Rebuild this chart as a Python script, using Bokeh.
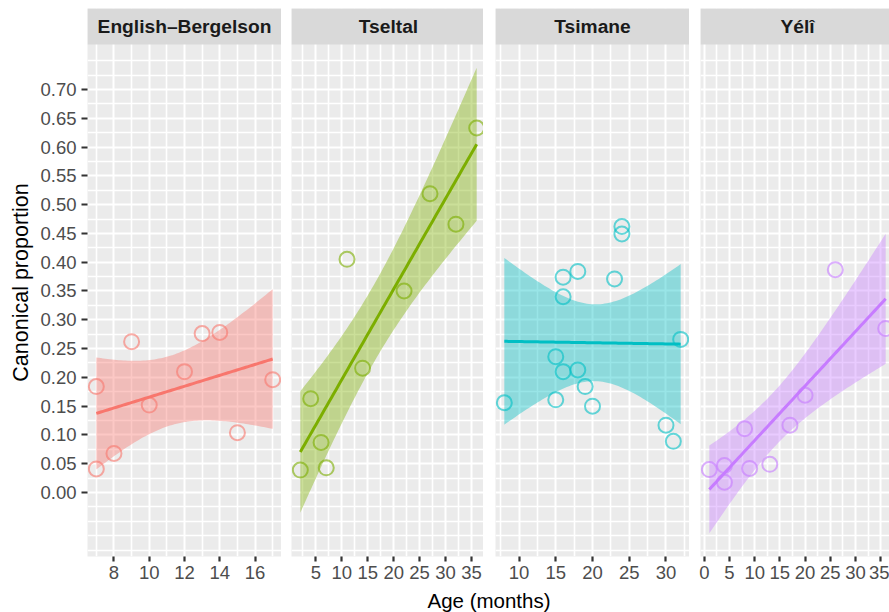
import math
import numpy as np
from bokeh.plotting import figure
from bokeh.layouts import row, column
from bokeh.models import Range1d, FixedTicker, Grid, NumeralTickFormatter
from bokeh.core.properties import value
from bokeh.embed import file_html
from bokeh.resources import INLINE

# ---------------- data ----------------
panel_names = ["English\u2013Bergelson", "Tseltal", "Tsimane", "Y\u00e9l\u00ee"]
panel_colors = ["#F8766D", "#7CAE00", "#00BFC4", "#C77CFF"]

eng_age = [7, 7, 8, 9, 10, 12, 13, 14, 15, 17]
eng_prop = [0.041, 0.184, 0.068, 0.262, 0.152, 0.210, 0.276, 0.278, 0.104, 0.196]

tse_age = [2, 4, 6, 7, 11, 14, 22, 27, 32, 36]
tse_prop = [0.039, 0.163, 0.087, 0.043, 0.405, 0.216, 0.350, 0.519, 0.466, 0.633]

tsi_age = [8, 15, 15, 16, 16, 16, 18, 18, 19, 20, 23, 24, 24, 30, 31, 32]
tsi_prop = [0.156, 0.236, 0.161, 0.374, 0.340, 0.210, 0.384, 0.213, 0.184, 0.150,
            0.371, 0.462, 0.449, 0.117, 0.089, 0.266]

yel_age = [1, 4, 4, 8, 9, 13, 17, 20, 26, 36]
yel_prop = [0.040, 0.047, 0.018, 0.111, 0.042, 0.049, 0.117, 0.169, 0.387, 0.285]

y_ticks = [0.00, 0.05, 0.10, 0.15, 0.20, 0.25, 0.30, 0.35, 0.40, 0.45, 0.50, 0.55, 0.60, 0.65, 0.70]
y_minor = [-0.100, -0.075, -0.050, -0.025, 0.025, 0.075, 0.125, 0.175, 0.225, 0.275, 0.325,
           0.375, 0.425, 0.475, 0.525, 0.575, 0.625, 0.675, 0.725, 0.750]

eng_ticks = [8, 10, 12, 14, 16]
eng_minor = [7, 9, 11, 13, 15, 17]
tse_ticks = [5, 10, 15, 20, 25, 30, 35]
tse_minor = [2.5, 7.5, 12.5, 17.5, 22.5, 27.5, 32.5, 37.5]
tsi_ticks = [10, 15, 20, 25, 30]
tsi_minor = [7.5, 12.5, 17.5, 22.5, 27.5, 32.5]
yel_ticks = [0, 5, 10, 15, 20, 25, 30, 35]
yel_minor = [2.5, 7.5, 12.5, 17.5, 22.5, 27.5, 32.5, 37.5]

x_title = "Age (months)"
y_title = "Canonical proportion"

# ---------------- layout / style ----------------
Y_LO, Y_HI = -0.111, 0.778
PANEL_PX = 512
STRIP_PX = 36
TOP_PX = 8
BOTTOM_PX = 32
Y_TOP = Y_HI + STRIP_PX * (Y_HI - Y_LO) / PANEL_PX
FONT = "Liberation Sans"
TICK_SIZE = "18.5px"
STRIP_SIZE = "19.2px"
TITLE_SIZE = "21.5px"
XTITLE_SIZE = "20.5px"
LEFT_BORDER = 87
FULL_W = 194
frame_ws = [194, 192, 194, 189]
gaps = [LEFT_BORDER, 10, 12, 11]
TOTAL_W = sum(frame_ws) + sum(gaps)
TITLE_H = 612 - TOP_PX - PANEL_PX - STRIP_PX - BOTTOM_PX


def t975(df):
    t = np.linspace(0, 30, 300001)
    c = math.gamma((df + 1) / 2) / (math.sqrt(df * math.pi) * math.gamma(df / 2))
    pdf = c * (1 + t ** 2 / df) ** (-(df + 1) / 2)
    cdf = np.concatenate([[0.0], np.cumsum((pdf[1:] + pdf[:-1]) / 2 * np.diff(t))])
    return float(np.interp(0.475, cdf, t))


def lm_band(age, prop):
    x = np.asarray(age, float)
    y = np.asarray(prop, float)
    n = len(x)
    xm, ym = x.mean(), y.mean()
    sxx = ((x - xm) ** 2).sum()
    b1 = ((x - xm) * (y - ym)).sum() / sxx
    b0 = ym - b1 * xm
    s = math.sqrt(((y - (b0 + b1 * x)) ** 2).sum() / (n - 2))
    xs = np.linspace(x.min(), x.max(), 80)
    fit = b0 + b1 * xs
    se = s * np.sqrt(1.0 / n + (xs - xm) ** 2 / sxx)
    tq = t975(n - 2)
    return xs, fit, fit - tq * se, fit + tq * se


def style_ticks(ax, tick_len):
    ax.axis_line_color = None
    ax.major_tick_out = tick_len
    ax.major_tick_in = 0
    ax.major_tick_line_color = "#333333"
    ax.major_tick_line_width = 2.2
    ax.minor_tick_line_color = None
    ax.major_label_text_font = FONT
    ax.major_label_text_font_size = TICK_SIZE
    ax.major_label_text_color = "#4D4D4D"


def make_panel(i, age, prop, xticks, xminor):
    first = i == 0
    xmin, xmax = min(age), max(age)
    span = xmax - xmin
    xs_full, xe_full = xmin - 0.05 * span, xmax + 0.05 * span
    x_end = xs_full + (xe_full - xs_full) * frame_ws[i] / FULL_W
    p = figure(frame_width=frame_ws[i], frame_height=PANEL_PX + STRIP_PX,
               x_range=Range1d(xs_full, x_end), y_range=Range1d(Y_LO, Y_TOP),
               output_backend="svg", toolbar_location=None,
               y_axis_location="left" if first else None,
               min_border_left=gaps[i], min_border_right=0, min_border_top=TOP_PX,
               min_border_bottom=BOTTOM_PX,
               background_fill_color="#EBEBEB", border_fill_color="white",
               outline_line_color=None)
    p.grid.visible = False
    p.add_layout(Grid(dimension=0, ticker=FixedTicker(ticks=xticks, minor_ticks=xminor),
                      grid_line_color="white", grid_line_width=2,
                      minor_grid_line_color="white", minor_grid_line_width=1.6))
    p.add_layout(Grid(dimension=1, ticker=FixedTicker(ticks=y_ticks, minor_ticks=y_minor),
                      grid_line_color="white", grid_line_width=2,
                      minor_grid_line_color="white", minor_grid_line_width=1.6))

    xa = p.xaxis[0]
    xa.ticker = FixedTicker(ticks=xticks)
    style_ticks(xa, 5)
    xa.major_label_standoff = 4

    if first:
        ya = p.yaxis[0]
        ya.ticker = FixedTicker(ticks=y_ticks)
        ya.formatter = NumeralTickFormatter(format="0.00")
        style_ticks(ya, 6)
        ya.major_label_standoff = 5
        ya.axis_label = y_title
        ya.axis_label_text_font = FONT
        ya.axis_label_text_font_size = TITLE_SIZE
        ya.axis_label_text_font_style = "normal"
        ya.axis_label_text_color = "black"
        ya.axis_label_standoff = 4

    col = panel_colors[i]
    xs, fit, lo, hi = lm_band(age, prop)
    p.varea(x=xs, y1=lo, y2=hi, fill_color=col, fill_alpha=0.4)
    p.line(x=xs, y=fit, line_color=col, line_width=3)
    p.scatter(x=age, y=prop, marker="circle", size=15, fill_color=None,
              line_color=col, line_alpha=0.6, line_width=2)

    # facet strip
    p.quad(left=[xs_full], right=[x_end], bottom=[Y_HI], top=[Y_TOP],
           fill_color="#D9D9D9", line_color=None)
    p.text(x=[(xs_full + xe_full) / 2], y=[(Y_HI + Y_TOP) / 2], text=[panel_names[i]],
           text_font=value(FONT), text_font_size=value(STRIP_SIZE), text_font_style="bold",
           text_color="#1A1A1A", text_align="center", text_baseline="middle")
    return p


p1 = make_panel(0, eng_age, eng_prop, eng_ticks, eng_minor)
p2 = make_panel(1, tse_age, tse_prop, tse_ticks, tse_minor)
p3 = make_panel(2, tsi_age, tsi_prop, tsi_ticks, tsi_minor)
p4 = make_panel(3, yel_age, yel_prop, yel_ticks, yel_minor)

pt = figure(width=TOTAL_W, height=TITLE_H, x_range=Range1d(0, TOTAL_W),
            y_range=Range1d(0, TITLE_H), output_backend="svg", toolbar_location=None,
            x_axis_location=None, y_axis_location=None, min_border=0,
            outline_line_color=None, background_fill_color="white",
            border_fill_color="white")
pt.grid.visible = False
panels_center = (LEFT_BORDER + (LEFT_BORDER + sum(frame_ws[:3]) + sum(gaps[1:]) + FULL_W)) / 2
pt.text(x=[panels_center - 2], y=[TITLE_H / 2], text=[x_title], text_font=value(FONT),
        text_font_size=value(XTITLE_SIZE), text_color="black", text_align="center",
        text_baseline="middle")

layout = column(row(p1, p2, p3, p4), pt)
open("out.html", "w").write(file_html(layout, INLINE))
